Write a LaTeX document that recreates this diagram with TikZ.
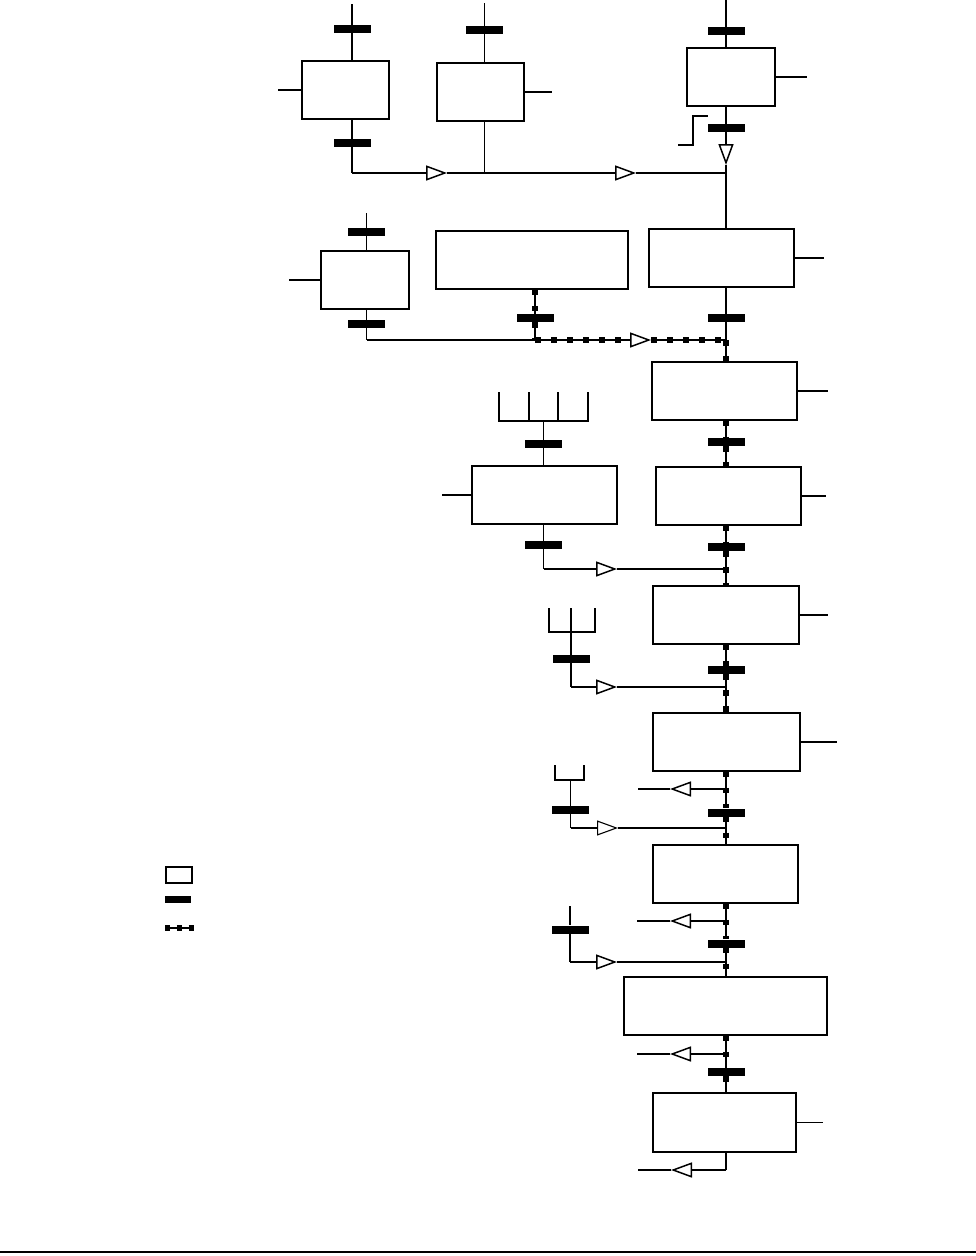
\documentclass[tikz,border=0pt]{standalone}
\usetikzlibrary{arrows.meta,positioning}

\begin{document}
\begin{tikzpicture}[
    x=1pt, y=-1pt,
    proc/.style={draw, line width=1.9pt, fill=white, inner sep=0pt, minimum height=58pt},
    small/.style={proc, minimum width=88pt},
    wide/.style={proc, minimum width=145pt},
    trans/.style={fill=black, inner sep=0pt, minimum width=37pt, minimum height=8pt},
    line/.style={line width=1.6pt},
    thin/.style={line width=1.1pt},
    flow/.style={line width=1.5pt, -{Triangle[open, length=21pt, width=15pt]}},
    pipe/.style={line width=1.6pt, postaction={draw, line width=6pt, dash pattern=on 5.5pt off 10.5pt}}
]
    \useasboundingbox (0,0) rectangle (976,1256);

    % steps
    \node[small, minimum width=87pt] (stA) at (345.5,90) {};
    \node[small, minimum width=87pt] (stB) at (480.5,92) {};
    \node[small] (stC) at (731,77) {};
    \node[wide] (stD) at (721.5,258) {};
    \node[small] (stE) at (365,280) {};
    \node[proc, minimum width=192pt] (stF) at (532,260) {};
    \node[wide] (stG) at (724.5,391) {};
    \node[wide] (stH) at (728.5,496) {};
    \node[wide] (stI) at (544.5,495) {};
    \node[wide, minimum width=146pt] (stJ) at (726,615) {};
    \node[wide, minimum width=147pt] (stK) at (726.5,742) {};
    \node[wide] (stL) at (725.5,874) {};
    \node[proc, minimum width=203pt] (stM) at (725.5,1006) {};
    \node[wide, minimum width=143pt, minimum height=59pt] (stN) at (724.5,1122.5) {};

    % transitions
    \node[trans] (tA1) at (352,29) {};
    \node[trans] (tA2) at (352,143) {};
    \node[trans] (tB1) at (484.5,30) {};
    \node[trans] (tC1) at (726,31) {};
    \node[trans] (tC2) at (726,128) {};
    \node[trans] (tD) at (726,318) {};
    \node[trans] (tE1) at (366.5,232) {};
    \node[trans] (tE2) at (366.5,324) {};
    \node[trans] (tF) at (535,318) {};
    \node[trans] (tG) at (726,442) {};
    \node[trans] (tH) at (726,547) {};
    \node[trans] (tI1) at (543.5,444) {};
    \node[trans] (tI2) at (543.5,545) {};
    \node[trans] (tJ) at (726,670) {};
    \node[trans] (tP) at (571,659) {};
    \node[trans] (tK) at (726,812.5) {};
    \node[trans] (tQ) at (570.5,810) {};
    \node[trans] (tL) at (726,943.5) {};
    \node[trans] (tR) at (570,929.5) {};
    \node[trans] (tM) at (726,1072) {};

    \coordinate (col) at (726,0);

    % top row
    \coordinate (inA) at (352,4);
    \coordinate (inB) at (484.5,3);
    \coordinate (jA) at (352,173);
    \coordinate (jB) at (484.5,173);
    \coordinate (jC) at (726,173);
    \coordinate (f1) at (447,173);
    \coordinate (f2) at (636,173);
    \coordinate (f3) at (726,165);
    \coordinate (mk) at (678,145);
    \draw[line] (inA) -- (tA1) -- (tA1 |- stA.north);
    \draw[line] (tA1 |- stA.south) -- (tA2) -- (jA);
    \draw[flow] (jA) -- (f1);
    \draw[flow] (f1) -- (f2);
    \draw[line] (f2) -- (jC);
    \draw[line] (inB) -- (tB1) -- (tB1 |- stB.north);
    \draw[line] (tB1 |- stB.south) -- (jB);
    \draw[line] (col) -- (tC1) -- (stC.north -| col);
    \draw[flow] (stC.south -| col) -- (tC2) -- (f3);
    \draw[line] (f3) -- (stD.north -| col);
    \draw[thin] (stA.west) -- ++(-23,0);
    \draw[thin] (stB.east) -- ++(27,0);
    \draw[thin] (stC.east) -- ++(31,0);
    \draw[thin] (mk) -- ++(15,0) -- ++(0,-29) -- ++(15,0);

    % second row
    \coordinate (inE) at (366.5,213);
    \coordinate (jE) at (366.5,340);
    \coordinate (jF) at (535,340);
    \coordinate (jD) at (726,340);
    \coordinate (b4) at (629,340);
    \coordinate (f4) at (651,340);
    \draw[line] (inE) -- (tE1) -- (tE1 |- stE.north);
    \draw[line] (tE1 |- stE.south) -- (tE2) -- (jE);
    \draw[line] (jE) -- (jF);
    \draw[pipe] (stF.south -| tF) -- (tF) -- (jF);
    \draw[pipe] (jF) -- (b4);
    \draw[flow] (b4) -- (f4);
    \draw[pipe] (f4) -- (jD);
    \draw[line] (stD.south -| col) -- (tD) -- (jD);
    \draw[thin] (stD.east) -- ++(29,0);
    \draw[thin] (stE.west) -- ++(-31,0);

    % main column
    \draw[pipe] (jD) -- (stG.north -| col);
    \draw[pipe] (stG.south -| col) -- (tG) -- (stH.north -| col);
    \draw[pipe] (stH.south -| col) -- (tH) -- (stJ.north -| col);
    \draw[pipe] (stJ.south -| col) -- (tJ) -- (stK.north -| col);
    \draw[pipe] (stK.south -| col) -- (tK) -- (stL.north -| col);
    \draw[pipe] (stL.south -| col) -- (tL) -- (stM.north -| col);
    \draw[pipe] (stM.south -| col) -- (tM) -- (stN.north -| col);
    \draw[thin] (stG.east) -- ++(30,0);
    \draw[thin] (stH.east) -- ++(24,0);
    \draw[thin] (stJ.east) -- ++(28,0);
    \draw[thin] (stK.east) -- ++(36,0);
    \draw[thin] (stN.east) -- ++(26,0);

    % side feed I
    \coordinate (kI) at (543.5,421);
    \coordinate (jI) at (543.5,569);
    \coordinate (f5) at (617,569);
    \coordinate (jH) at (726,569);
    \draw[line] (499,392) -- (499,421) -- (588,421) -- (588,392);
    \draw[line] (529,392) -- (529,421);
    \draw[line] (558,392) -- (558,421);
    \draw[line] (kI) -- (tI1) -- (tI1 |- stI.north);
    \draw[line] (tI1 |- stI.south) -- (tI2) -- (jI);
    \draw[flow] (jI) -- (f5);
    \draw[line] (f5) -- (jH);
    \draw[thin] (stI.west) -- ++(-29,0);

    % side feed P
    \coordinate (kP) at (571,632);
    \coordinate (jP) at (571,687);
    \coordinate (f6) at (617,687);
    \coordinate (jJ) at (726,687);
    \draw[line] (549,608) -- (549,632) -- (595,632) -- (595,608);
    \draw[line] (571,608) -- (kP);
    \draw[line] (kP) -- (tP) -- (jP);
    \draw[flow] (jP) -- (f6);
    \draw[line] (f6) -- (jJ);

    % outlet K
    \coordinate (jK) at (726,789);
    \coordinate (f7) at (670,789);
    \coordinate (oK) at (638,789);
    \draw[flow] (jK) -- (f7);
    \draw[line] (f7) -- (oK);

    % side feed Q
    \coordinate (kQ) at (570.5,780);
    \coordinate (jQ) at (570.5,828);
    \coordinate (f8) at (618,828);
    \coordinate (jL) at (726,828);
    \draw[line] (555,765) -- (555,780) -- (584,780) -- (584,765);
    \draw[line] (kQ) -- (tQ) -- (jQ);
    \draw[flow, line width=1.1pt] (jQ) -- (f8);
    \draw[thin] (f8) -- (jL);

    % outlet L, side feed R
    \coordinate (jL2) at (726,921);
    \coordinate (f9) at (670,921);
    \coordinate (oL) at (637,921);
    \draw[flow] (jL2) -- (f9);
    \draw[line] (f9) -- (oL);
    \coordinate (inR) at (570,906);
    \coordinate (jR) at (570,962);
    \coordinate (f10) at (617,962);
    \coordinate (jM) at (726,962);
    \draw[line] (inR) -- (tR) -- (jR);
    \draw[flow] (jR) -- (f10);
    \draw[line] (f10) -- (jM);

    % outlet M
    \coordinate (jM2) at (726,1054);
    \coordinate (f11) at (670,1054);
    \coordinate (oM) at (637,1054);
    \draw[flow] (jM2) -- (f11);
    \draw[line] (f11) -- (oM);

    % outlet N
    \coordinate (jN) at (726,1170);
    \coordinate (f12) at (671,1170);
    \coordinate (oN) at (638,1170);
    \draw[line] (stN.south -| col) -- (jN);
    \draw[flow] (jN) -- (f12);
    \draw[line] (f12) -- (oN);

    % legend
    \node[draw, line width=1.4pt, inner sep=0pt, minimum width=26pt, minimum height=16pt] (lgStep) at (179,875) {};
    \node[trans, minimum width=26pt, minimum height=7pt] (lgTrans) at (178,899.5) {};
    \coordinate (lgA) at (165,928);
    \coordinate (lgB) at (193.5,928);
    \draw[line width=1.2pt, postaction={draw, line width=5.5pt, dash pattern=on 5pt off 6.8pt}] (lgA) -- (lgB);

    % rule
    \coordinate (ruleL) at (0,1252);
    \coordinate (ruleR) at (976,1252);
    \draw[line width=1.4pt] (ruleL) -- (ruleR);
\end{tikzpicture}
\end{document}
